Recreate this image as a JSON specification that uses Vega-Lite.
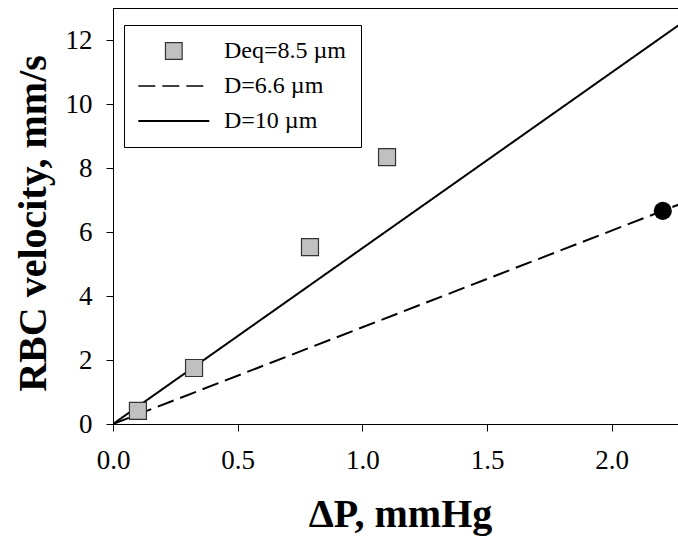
{
  "$schema": "https://vega.github.io/schema/vega-lite/v6.json",
  "autosize": {"type": "none"},
  "padding": {"left": 113, "top": 8, "right": 0, "bottom": 116},
  "width": 566,
  "height": 416,
  "config": {
    "view": {"stroke": "black", "strokeWidth": 1},
    "font": "Liberation Serif",
    "axis": {
      "grid": false,
      "domainColor": "black",
      "tickColor": "black",
      "tickSize": 7,
      "labelFlush": false,
      "labelFont": "Liberation Serif",
      "labelFontSize": 27,
      "labelColor": "black",
      "titleFont": "Liberation Serif",
      "titleFontSize": 40,
      "titleFontWeight": "bold",
      "titleColor": "black"
    },
    "legend": {
      "labelFont": "Liberation Serif",
      "labelFontSize": 24,
      "labelColor": "black",
      "strokeColor": "black",
      "fillColor": "white",
      "padding": 14,
      "rowPadding": 11,
      "labelOffset": 62,
      "labelLimit": 400,
      "symbolSize": 279,
      "symbolOpacity": 1
    }
  },
  "layer": [
    {
      "data": {"values": [
        {"series": "D=6.6 µm", "dp": 0, "v": 0},
        {"series": "D=6.6 µm", "dp": 2.27, "v": 6.86},
        {"series": "D=10 µm", "dp": 0, "v": 0},
        {"series": "D=10 µm", "dp": 2.27, "v": 12.47}
      ]},
      "mark": {"type": "line", "color": "black", "strokeWidth": 2, "clip": true},
      "encoding": {
        "x": {"field": "dp", "type": "quantitative", "scale": {"domain": [0, 2.27], "nice": false},
              "axis": {"title": "ΔP, mmHg", "values": [0, 0.5, 1, 1.5, 2], "format": ".1f", "labelPadding": 16, "titlePadding": 21, "titleX": 287}},
        "y": {"field": "v", "type": "quantitative", "scale": {"domain": [0, 13], "nice": false},
              "axis": {"title": "RBC velocity, mm/s", "values": [0, 2, 4, 6, 8, 10, 12], "labelPadding": 14, "titlePadding": 12, "titleY": 215}},
        "strokeDash": {"field": "series", "type": "nominal",
          "scale": {"domain": ["Deq=8.5 µm", "D=6.6 µm", "D=10 µm"], "range": [[1, 0], [17, 7], [1, 0]]}},
        "detail": {"field": "series"}
      }
    },
    {
      "data": {"values": [
        {"series": "Deq=8.5 µm", "dp": 0.10, "v": 0.41},
        {"series": "Deq=8.5 µm", "dp": 0.325, "v": 1.75},
        {"series": "Deq=8.5 µm", "dp": 0.79, "v": 5.53},
        {"series": "Deq=8.5 µm", "dp": 1.099, "v": 8.34}
      ]},
      "mark": {"type": "point", "filled": true, "size": 289, "shape": "square", "color": "#c0c0c0", "stroke": "#333333", "strokeWidth": 1.2, "opacity": 1},
      "encoding": {
        "x": {"field": "dp", "type": "quantitative"},
        "y": {"field": "v", "type": "quantitative"}
      }
    },
    {
      "data": {"values": [
        {"dp": 2.205, "v": 6.66}
      ]},
      "mark": {"type": "point", "filled": true, "size": 330, "shape": "circle", "color": "black", "opacity": 1},
      "encoding": {
        "x": {"field": "dp", "type": "quantitative"},
        "y": {"field": "v", "type": "quantitative"}
      }
    },
    {
      "data": {"values": [
        {"series": "Deq=8.5 µm"},
        {"series": "D=6.6 µm"},
        {"series": "D=10 µm"}
      ]},
      "mark": {"type": "point", "opacity": 0, "size": 279},
      "encoding": {
        "shape": {"field": "series", "type": "nominal",
          "scale": {"domain": ["Deq=8.5 µm", "D=6.6 µm", "D=10 µm"], "range": ["M1.85,-1H3.85V1H1.85Z", "M-1.4,0H7.1", "M-1.4,0H7.1"]},
          "legend": {"title": null, "orient": "none", "legendX": 11, "legendY": 17}},
        "fill": {"field": "series", "type": "nominal",
          "scale": {"domain": ["Deq=8.5 µm", "D=6.6 µm", "D=10 µm"], "range": ["#c0c0c0", "transparent", "transparent"]},
          "legend": {"title": null, "orient": "none", "legendX": 11, "legendY": 17}},
        "stroke": {"field": "series", "type": "nominal",
          "scale": {"domain": ["Deq=8.5 µm", "D=6.6 µm", "D=10 µm"], "range": ["#333333", "black", "black"]},
          "legend": {"title": null, "orient": "none", "legendX": 11, "legendY": 17}},
        "strokeWidth": {"field": "series", "type": "ordinal",
          "scale": {"domain": ["Deq=8.5 µm", "D=6.6 µm", "D=10 µm"], "range": [1.2, 2.2, 2.2]},
          "legend": {"title": null, "orient": "none", "legendX": 11, "legendY": 17}},
        "strokeDash": {"field": "series", "type": "nominal",
          "legend": {"title": null, "orient": "none", "legendX": 11, "legendY": 17}}
      }
    }
  ]
}
